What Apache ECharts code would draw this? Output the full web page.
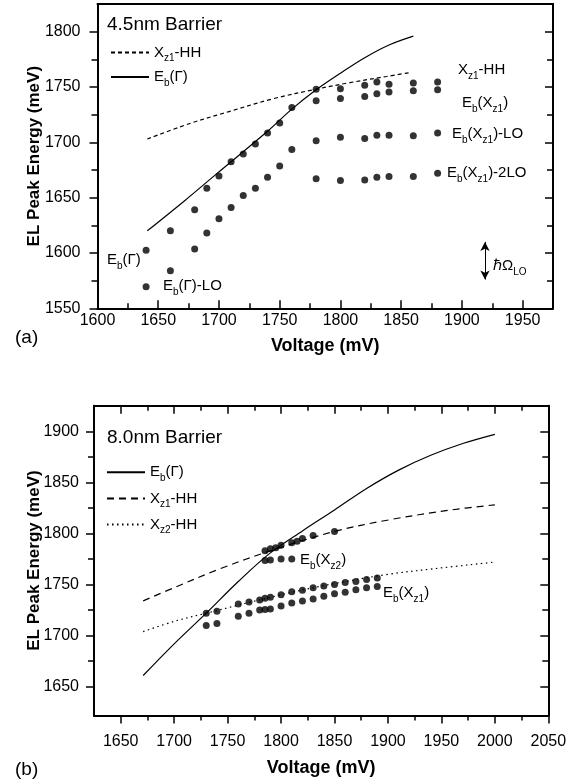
<!DOCTYPE html>
<html>
<head>
<meta charset="utf-8">
<script src="https://cdn.jsdelivr.net/npm/echarts@6/dist/echarts.min.js"></script>
<style>
html, body { margin: 0; padding: 0; background: #fff; }
#chart { width: 580px; height: 781px; }
</style>
</head>
<body>
<div id="chart"></div>
<script>
// ---- panel (a): 4.5nm barrier ----
const aXMajor = [1600, 1650, 1700, 1750, 1800, 1850, 1900, 1950];
const aXMinor = [1625, 1675, 1725, 1775, 1825, 1875, 1925];
const aYMajor = [1550, 1600, 1650, 1700, 1750, 1800];
const aYMinor = [1575, 1625, 1675, 1725, 1775];

const aLineXz1HH = [[1641, 1703], [1676, 1717], [1709, 1728], [1745, 1739.5], [1780, 1748], [1808, 1754], [1838, 1759.5], [1857, 1763]];
const aLineEbG = [[1641, 1620], [1672, 1647.5], [1698, 1671.5], [1740, 1710], [1760, 1730], [1780, 1747.5], [1800, 1762.5], [1820, 1776.5], [1840, 1788], [1860, 1796]];

const aEbG = [[1640, 1602.5], [1660, 1620], [1680, 1639], [1690, 1658.5], [1700, 1669.5], [1710, 1682.5], [1720, 1689.5], [1730, 1698.5], [1740, 1708.5], [1750, 1717.5], [1760, 1731.5]];
const aEbGLO = [[1640, 1569.5], [1660, 1584], [1680, 1603.5], [1690, 1618], [1700, 1631], [1710, 1641], [1720, 1652], [1730, 1658.5], [1740, 1668.5], [1750, 1678.5], [1760, 1693.5]];
const aXz1HH = [[1780, 1748], [1800, 1748.5], [1820, 1751.5], [1830, 1754.5], [1840, 1752.5], [1860, 1753.5], [1880, 1754.5]];
const aEbXz1 = [[1780, 1737.5], [1800, 1739.5], [1820, 1741.5], [1830, 1744], [1840, 1745.5], [1860, 1746.5], [1880, 1747.5]];
const aEbXz1LO = [[1780, 1701.5], [1800, 1704.5], [1820, 1703.5], [1830, 1706.5], [1840, 1706.5], [1860, 1706], [1880, 1708.5]];
const aEbXz12LO = [[1780, 1667], [1800, 1665.5], [1820, 1666], [1830, 1668.5], [1840, 1669], [1860, 1669], [1880, 1672]];
const aHwLO = [[1919, 1576], [1919, 1610]];

// ---- panel (b): 8.0nm barrier ----
const bXMajor = [1650, 1700, 1750, 1800, 1850, 1900, 1950, 2000, 2050];
const bXMinor = [1675, 1725, 1775, 1825, 1875, 1925, 1975, 2025];
const bYMajor = [1650, 1700, 1750, 1800, 1850, 1900];
const bYMinor = [1675, 1725, 1775, 1825, 1875];

const bLineEbG = [[1671, 1661], [1700, 1692], [1730, 1722], [1760, 1753], [1790, 1781], [1820, 1802.5], [1850, 1823], [1880, 1844], [1910, 1862], [1940, 1876.5], [1970, 1888], [2000, 1897]];
const bLineXz1HH = [[1671, 1734], [1700, 1747], [1743, 1765.5], [1790, 1783], [1850, 1802], [1902, 1813.5], [1959, 1823], [2000, 1828]];
const bLineXz2HH = [[1671, 1704], [1700, 1714], [1730, 1722], [1800, 1740], [1850, 1751], [1900, 1760], [1943, 1765.5], [2000, 1772]];

const bUpper = [[1785, 1783], [1790, 1785], [1795, 1786], [1800, 1788.5], [1810, 1791], [1815, 1792.5], [1820, 1795], [1830, 1798], [1850, 1802]];
const bEbXz2 = [[1785, 1773.5], [1790, 1774], [1800, 1775], [1810, 1775]];
const bEbXz1Hi = [[1730, 1722], [1740, 1724], [1760, 1731], [1770, 1733], [1780, 1735], [1785, 1736.5], [1790, 1737.5], [1800, 1740], [1810, 1743], [1820, 1744.5], [1830, 1747], [1840, 1748.5], [1850, 1750], [1860, 1752], [1870, 1753], [1880, 1755], [1890, 1756.5]];
const bEbXz1Lo = [[1730, 1710], [1740, 1712], [1760, 1719], [1770, 1722], [1780, 1725], [1785, 1725.5], [1790, 1726], [1800, 1729], [1810, 1732], [1820, 1734], [1830, 1736], [1840, 1738.5], [1850, 1741], [1860, 1742.5], [1870, 1745], [1880, 1747], [1890, 1748]];

const FONT = 'Liberation Sans';

// 'E_{b}(X_{z1})' -> rich text with subscripts
function rich (s) {
  return s.split(/(_\{[^}]*\})/).filter(p => p).map(p =>
    p.startsWith('_{') ? '{s|' + p.slice(2, -1) + '}' : '{n|' + p + '}'
  ).join('');
}
function richStyle (size) {
  return {
    n: { fontSize: size, fontFamily: FONT, color: '#000', fill: '#000', lineHeight: size + 7 },
    s: { fontSize: Math.round(size * 0.66), fontFamily: FONT, color: '#000', fill: '#000', verticalAlign: 'bottom' }
  };
}
function text (x, y, s, size) {
  return {
    type: 'text', x: x, y: y, silent: true,
    style: { text: rich(s), rich: richStyle(size), fill: '#000', verticalAlign: 'middle', align: 'left' }
  };
}

function axis (grid, min, max, pos, o) {
  return {
    type: 'value', gridIndex: grid, position: pos, min: min, max: max,
    splitLine: { show: false },
    axisLine: { show: !!o.line, onZero: false, lineStyle: { color: '#000', width: 2 } },
    axisTick: o.ticks ? { show: true, customValues: o.ticks, inside: !!o.inside, length: o.len, lineStyle: { color: '#000', width: 1.5 } } : { show: false },
    axisLabel: o.labels
      ? { show: true, customValues: o.labels, formatter: v => String(v), fontSize: 16, fontFamily: FONT, color: '#000', margin: o.margin }
      : { show: false },
    name: o.name || '', nameLocation: 'middle', nameGap: o.nameGap, nameMoveOverlap: false,
    nameTextStyle: { fontSize: o.nameSize, fontWeight: 'bold', fontFamily: FONT, color: '#000' }
  };
}

const xAxes = [
  axis(0, 1600, 1975, 'bottom', { line: true, ticks: aXMajor, inside: true, len: 8, labels: aXMajor, margin: 4, name: 'Voltage (mV)', nameGap: 29, nameSize: 18 }),
  axis(0, 1600, 1975, 'bottom', { ticks: aXMinor, inside: true, len: 5 }),
  axis(0, 1600, 1975, 'top', { line: true }),
  axis(1, 1625, 2050, 'bottom', { line: true, ticks: bXMajor, inside: false, len: 8, labels: bXMajor, margin: 18, name: 'Voltage (mV)', nameGap: 44, nameSize: 18 }),
  axis(1, 1625, 2050, 'bottom', { ticks: bXMinor, inside: false, len: 5 }),
  axis(1, 1625, 2050, 'top', { line: true, ticks: bXMajor, inside: true, len: 8 }),
  axis(1, 1625, 2050, 'top', { ticks: bXMinor, inside: true, len: 5 })
];
const yAxes = [
  axis(0, 1550, 1825, 'left', { line: true, ticks: aYMajor, inside: false, len: 8, labels: aYMajor, margin: 17, name: 'EL Peak Energy (meV)', nameGap: 55, nameSize: 17 }),
  axis(0, 1550, 1825, 'left', { ticks: aYMinor, inside: false, len: 6 }),
  axis(0, 1550, 1825, 'right', { line: true, ticks: aYMajor, inside: true, len: 8 }),
  axis(0, 1550, 1825, 'right', { ticks: aYMinor, inside: true, len: 6 }),
  axis(1, 1622, 1925, 'left', { line: true, ticks: bYMajor, inside: false, len: 8, labels: bYMajor, margin: 15, name: 'EL Peak Energy (meV)', nameGap: 51, nameSize: 17 }),
  axis(1, 1622, 1925, 'left', { ticks: bYMinor, inside: false, len: 6 }),
  axis(1, 1622, 1925, 'right', { line: true, ticks: bYMajor, inside: true, len: 8 }),
  axis(1, 1622, 1925, 'right', { ticks: bYMinor, inside: true, len: 6 })
];

function curve (name, data, xi, yi, type) {
  return {
    name: name, type: 'line', data: data, xAxisIndex: xi, yAxisIndex: yi,
    smooth: 0.35, symbol: 'none', silent: true,
    itemStyle: { color: '#000' },
    lineStyle: { color: '#000', width: 1.2, type: type }
  };
}
function dots (data, xi, yi) {
  return {
    type: 'scatter', data: data, xAxisIndex: xi, yAxisIndex: yi,
    symbol: 'circle', symbolSize: 7, silent: true,
    itemStyle: { color: '#000' }
  };
}

const legendNames = {
  a_xz1: 'X_{z1}-HH', a_eb: 'E_{b}(Γ)',
  b_eb: 'E_{b}(Γ)', b_xz1: 'X_{z1}-HH', b_xz2: 'X_{z2}-HH'
};
function legend (left, top, gap, names) {
  return {
    orient: 'vertical', left: left, top: top, itemGap: gap, itemWidth: 38, itemHeight: 14,
    padding: 0, selectedMode: false, data: names,
    itemStyle: { opacity: 0 },
    formatter: n => rich(legendNames[n]),
    textStyle: { rich: richStyle(15) }
  };
}

const hwSeries = dots([], 0, 0);
hwSeries.markLine = {
  silent: true, symbol: ['arrow', 'arrow'], symbolSize: [7, 9],
  lineStyle: { color: '#000', type: 'solid', width: 1 },
  label: { show: false },
  data: [[{ coord: aHwLO[0] }, { coord: aHwLO[1] }]]
};

const chart = echarts.init(document.getElementById('chart'));
chart.setOption({
  animation: false,
  backgroundColor: '#fff',
  textStyle: { fontFamily: FONT, color: '#000' },
  grid: [
    { left: 97.5, top: 4, width: 455.5, height: 304.3 },
    { left: 94, top: 405.7, width: 454.3, height: 309.7 }
  ],
  xAxis: xAxes,
  yAxis: yAxes,
  legend: [
    legend(110, 45, 6, ['a_xz1', 'a_eb']),
    legend(106, 464.7, 7.7, ['b_eb', 'b_xz1', 'b_xz2'])
  ],
  series: [
    curve('a_xz1', aLineXz1HH, 0, 0, [4, 3]),
    curve('a_eb', aLineEbG, 0, 0, 'solid'),
    dots(aEbG, 0, 0), dots(aEbGLO, 0, 0), dots(aXz1HH, 0, 0),
    dots(aEbXz1, 0, 0), dots(aEbXz1LO, 0, 0), dots(aEbXz12LO, 0, 0),
    hwSeries,
    curve('b_eb', bLineEbG, 3, 4, 'solid'),
    curve('b_xz1', bLineXz1HH, 3, 4, [7, 5]),
    curve('b_xz2', bLineXz2HH, 3, 4, [1.5, 3.5]),
    dots(bUpper, 3, 4), dots(bEbXz2, 3, 4), dots(bEbXz1Hi, 3, 4), dots(bEbXz1Lo, 3, 4)
  ],
  graphic: [
    text(107, 25, '4.5nm Barrier', 19),
    text(458, 70, 'X_{z1}-HH', 15),
    text(462, 103, 'E_{b}(X_{z1})', 15),
    text(452, 134, 'E_{b}(X_{z1})-LO', 15),
    text(447, 173, 'E_{b}(X_{z1})-2LO', 15),
    text(107, 260, 'E_{b}(Γ)', 15),
    text(163, 286, 'E_{b}(Γ)-LO', 15),
    text(493, 266, 'ℏΩ_{LO}', 15),
    text(15, 338, '(a)', 19),
    text(107, 438, '8.0nm Barrier', 19),
    text(300, 560, 'E_{b}(X_{z2})', 15),
    text(383, 593, 'E_{b}(X_{z1})', 15),
    text(15, 770, '(b)', 19)
  ]
});
</script>
</body>
</html>
